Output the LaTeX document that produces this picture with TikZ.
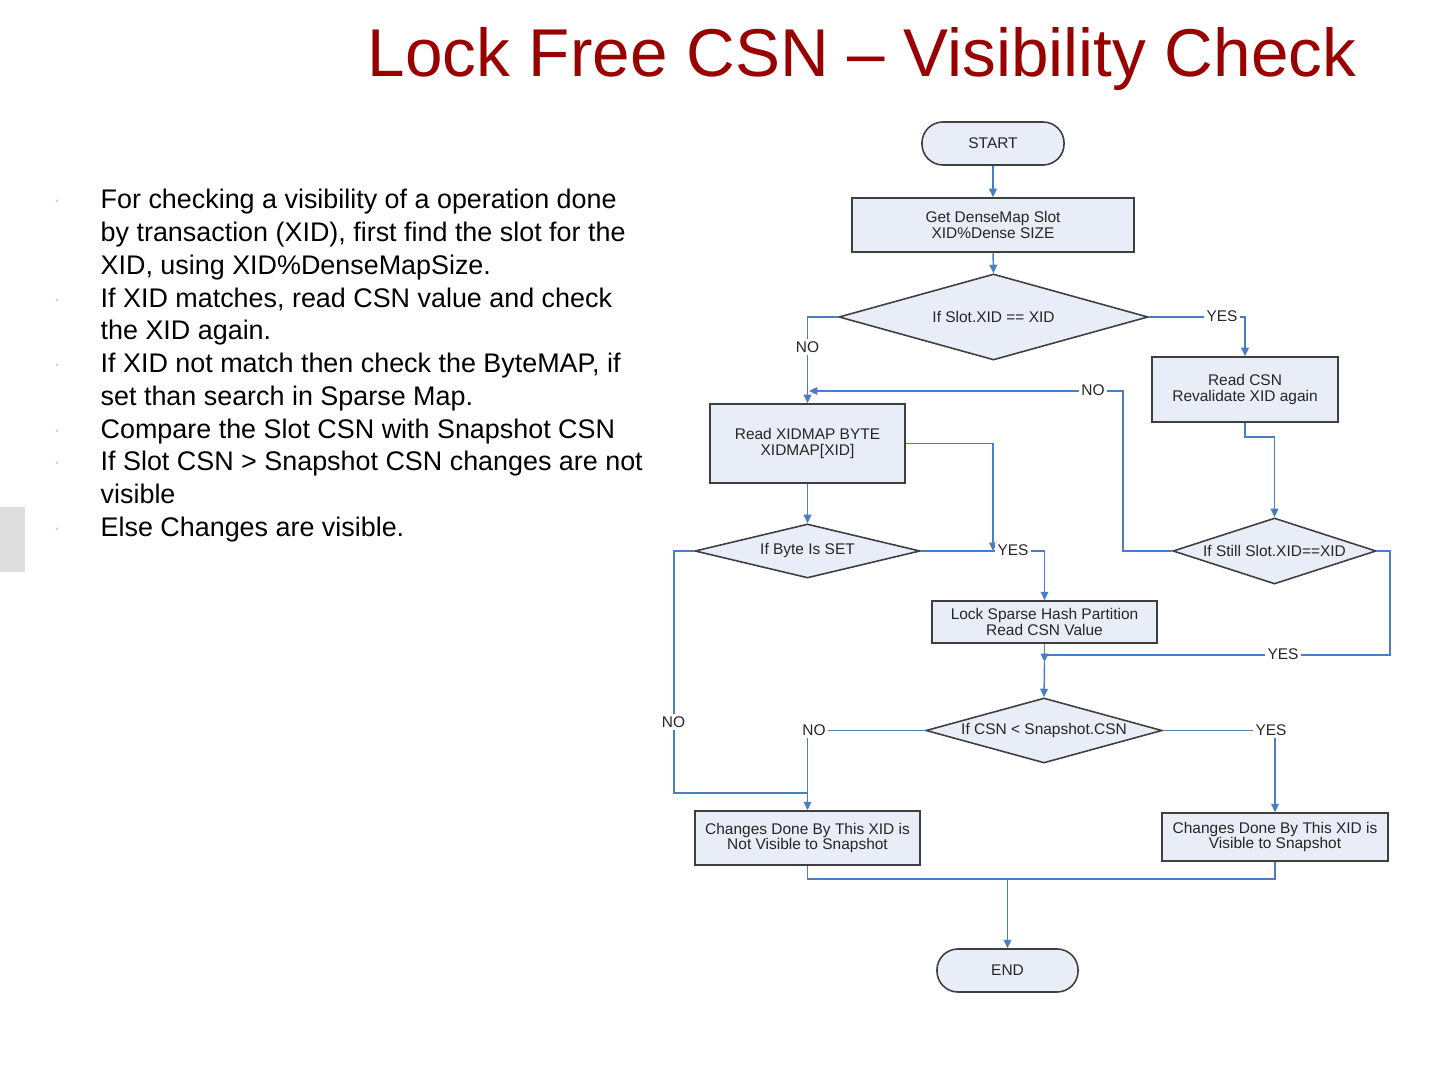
\documentclass[tikz,border=0pt]{standalone}
\usepackage{fontspec}
\usepackage{graphicx}
\setmainfont{Liberation Sans}
\usetikzlibrary{arrows.meta,shapes.geometric}
\definecolor{titlered}{HTML}{990000}
\definecolor{conncol}{HTML}{4A7EC2}
\definecolor{boxfill}{HTML}{E8EDF7}
\definecolor{boxdraw}{HTML}{3F3F3F}
\newcommand\fcfont{\fontsize{4.4}{4.3}\selectfont}
\begin{document}
\begin{tikzpicture}[x=0.01cm,y=-0.01cm,
 proc/.style={draw=boxdraw, fill=boxfill, line width=0.45pt, inner sep=0pt, align=center, font=\fcfont, text=black!85},
 term/.style={proc, rounded corners=0.21cm},
 dec/.style={diamond, draw=boxdraw, fill=boxfill, line width=0.45pt, inner sep=0pt},
 dectext/.style={font=\fcfont, inner sep=0pt, text=black!85},
 conn/.style={draw=conncol, line width=0.4pt},
 arr/.style={conn, -{Triangle[length=2.4pt,width=2.2pt]}},
 lbl/.style={fill=white, inner sep=0.6pt, font=\fcfont, text=black!85},
 bodyline/.style={anchor=base west, inner sep=0pt, font=\fontsize{7.65}{10}\selectfont},
 bulletdot/.style={fill=black!18, draw=none},
]
\useasboundingbox[fill=white] (0,0) rectangle (1440,1080);
% side tab
\fill[black!13] (0,507) rectangle (25,572);
% title
\node[anchor=base west, inner sep=0pt, text=titlered] (title) at (367,77) {\resizebox{9.88cm}{0.49cm}{\fontsize{20}{24}\selectfont Lock Free CSN – Visibility Check}};
% body text
\foreach \i/\yy/\txt in {1/209/{For checking a visibility of a operation done},
 2/242/{by transaction (XID), first find the slot for the},
 3/275/{XID, using XID\%DenseMapSize.},
 4/308/{If XID matches, read CSN value and check},
 5/340/{the XID again.},
 6/373/{If XID not match then check the ByteMAP, if},
 7/406/{set than search in Sparse Map.},
 8/439/{Compare the Slot CSN with Snapshot CSN},
 9/471/{If Slot CSN > Snapshot CSN changes are not},
 10/504/{visible},
 11/537/{Else Changes are visible.}}
 {\node[bodyline] (t\i) at (100,\yy) {\txt};}
\foreach \yy in {209,308,373,439,471,537}
 {\fill[bulletdot] (57,\yy-8) circle (0.015cm);}
% flowchart nodes
\node[term, minimum width=1.42cm, minimum height=0.43cm] (start) at (993,143.5) {START};
\node[proc, minimum width=2.82cm, minimum height=0.54cm] (dense) at (993,225) {Get DenseMap Slot\\XID\%Dense SIZE};
\node[dec, minimum width=3.09cm, minimum height=0.86cm] (d1) at (993.5,317) {};
\node[dectext] (d1t) at (d1) {If Slot.XID == XID};
\node[proc, minimum width=1.86cm, minimum height=0.65cm] (readcsn) at (1245,389.5) {Read CSN\\Revalidate XID again};
\node[proc, minimum width=1.95cm, minimum height=0.79cm] (xidmap) at (807.5,443.5) {Read XIDMAP BYTE\\XIDMAP[XID]};
\node[dec, minimum width=2.25cm, minimum height=0.54cm] (d2) at (807.5,551) {};
\node[dectext] (d2t) at (d2) {If Byte Is SET};
\node[dec, minimum width=2.03cm, minimum height=0.66cm] (d3) at (1274.5,551) {};
\node[dectext] (d3t) at (d3) {If Still Slot.XID==XID};
\node[proc, minimum width=2.25cm, minimum height=0.42cm] (lock) at (1044.5,622) {Lock Sparse Hash Partition\\Read CSN Value};
\node[dec, minimum width=2.36cm, minimum height=0.65cm] (d4) at (1044,730.5) {};
\node[dectext] (d4t) at (d4) {If CSN < Snapshot.CSN};
\node[proc, minimum width=2.25cm, minimum height=0.54cm] (notvis) at (807.5,838) {Changes Done By This XID is\\Not Visible to Snapshot};
\node[proc, minimum width=2.26cm, minimum height=0.48cm] (vis) at (1275,837) {Changes Done By This XID is\\Visible to Snapshot};
\node[term, minimum width=1.41cm, minimum height=0.43cm] (end) at (1007.5,970.5) {END};
% coordinates
\coordinate (rc1) at (1245,437);
\coordinate (t1) at (1123,391);
\coordinate (j1) at (809,391);
\coordinate (j2) at (993,551);
\coordinate (j3) at (1044.5,662);
\coordinate (t2) at (1390,655);
\coordinate (j4) at (1044.5,655);
\coordinate (t3) at (674,793);
\coordinate (j5) at (807.5,793);
\coordinate (j6) at (1007.5,879);
% connectors
\draw[arr] (start.south) -- (dense.north);
\draw[arr] (dense.south) -- (d1.north);
\draw[arr] (d1.west) -| (xidmap.north);
\draw[arr] (d1.east) -| (readcsn.north);
\draw[arr] (readcsn.south) -- (rc1) -| (d3.north);
\draw[arr] (d3.west) -| (t1) -- (j1);
\draw[arr] (xidmap.east) -| (j2);
\draw[arr] (xidmap.south) -- (d2.north);
\draw[arr] (d2.east) -| (lock.north);
\draw[arr] (lock.south) -- (j3);
\draw[arr] (j3) -- (d4.north);
\draw[conn] (d3.east) -| (t2) -- (j4);
\draw[conn] (d2.west) -| (t3) -- (j5);
\draw[arr] (d4.west) -| (notvis.north);
\draw[arr] (d4.east) -| (vis.north);
\draw[conn] (notvis.south) |- (j6);
\draw[conn] (vis.south) |- (j6);
\draw[arr] (j6) -- (end.north);
% connector labels
\node[lbl] (l1) at (807.5,347) {NO};
\node[lbl] (l2) at (1222,316.5) {YES};
\node[lbl] (l3) at (1093,390.5) {NO};
\node[lbl] (l4) at (1013,550.5) {YES};
\node[lbl] (l5) at (1283,654.5) {YES};
\node[lbl] (l6) at (673.5,722) {NO};
\node[lbl] (l7) at (814,730) {NO};
\node[lbl] (l8) at (1271,730) {YES};
\end{tikzpicture}
\end{document}
